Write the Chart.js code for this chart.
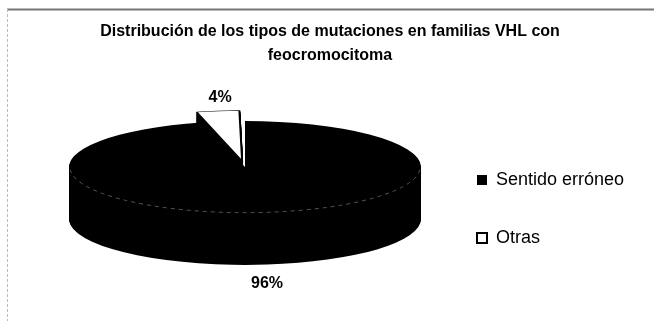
<!DOCTYPE html>
<html>
<head>
<meta charset="utf-8">
<script src="https://cdn.jsdelivr.net/npm/chart.js@4.4.1/dist/chart.umd.min.js"></script>
<style>
  html, body { margin: 0; padding: 0; background: #fff; }
  #wrap { width: 654px; height: 325px; position: relative; }
</style>
</head>
<body>
<div id="wrap"><canvas id="pieChart"></canvas></div>
<script>
const TITLE = ["Distribución de los tipos de mutaciones en familias VHL con", "feocromocitoma"];
const CATEGORIES = ["Sentido erróneo", "Otras"];
const PERCENTS = [96, 4];
const COLORS = ["#000000", "#ffffff"];

// 3D look: vertical squash of the pie and thickness of the slab
const TILT = 0.261;
const DEPTH = 52;
const LABEL_GAP = 18;

function flatten(ctx, arc) {
    ctx.translate(arc.x, arc.y);
    ctx.scale(1, TILT);
    ctx.translate(-arc.x, -arc.y);
}

const pie3d = {
    id: "pie3d",
    afterLayout(chart) {
        // legend is kept narrow for layout, but let its text run to the edge
        const lg = chart.legend;
        lg.right = chart.width;
        lg.width = lg.right - lg.left;
    },
    beforeDraw(chart) {
        // outer frame like the original sheet
        const ctx = chart.ctx;
        ctx.save();
        ctx.strokeStyle = "#777";
        ctx.lineWidth = 2;
        ctx.beginPath();
        ctx.moveTo(7, 9.5);
        ctx.lineTo(654, 9.5);
        ctx.stroke();
        ctx.strokeStyle = "#bbb";
        ctx.lineWidth = 1;
        ctx.setLineDash([3, 2]);
        ctx.beginPath();
        ctx.moveTo(7.5, 9);
        ctx.lineTo(7.5, 321);
        ctx.stroke();
        ctx.restore();
    },
    beforeDatasetsDraw(chart) {
        const arc = chart.getDatasetMeta(0).data[0];
        chart.ctx.save();
        flatten(chart.ctx, arc);
    },
    afterDatasetsDraw(chart) {
        const ctx = chart.ctx;
        ctx.restore();
        const meta = chart.getDatasetMeta(0);
        const arc = meta.data[0];

        // stack the slab upward, the last layer is the top face
        for (let k = 1; k <= DEPTH; k++) {
            ctx.save();
            ctx.translate(0, -k);
            flatten(ctx, arc);
            meta.data.forEach(a => a.draw(ctx));
            ctx.restore();
        }

        // faint rim between top face and side
        ctx.save();
        ctx.strokeStyle = "#555";
        ctx.lineWidth = 1;
        ctx.setLineDash([4, 4]);
        ctx.beginPath();
        ctx.ellipse(arc.x, arc.y - DEPTH, arc.outerRadius - 1, (arc.outerRadius - 1) * TILT, 0, 0.06, Math.PI - 0.06);
        ctx.stroke();
        ctx.restore();

        // percentage labels
        ctx.save();
        ctx.fillStyle = "#000";
        ctx.font = "bold 16px 'Liberation Sans', Arial, sans-serif";
        ctx.textAlign = "center";
        ctx.textBaseline = "middle";
        meta.data.forEach((a, i) => {
            const mid = (a.startAngle + a.endAngle) / 2;
            const r = a.outerRadius + (a.options.offset || 0) / 4;
            const sin = Math.sin(mid);
            const x = a.x + Math.cos(mid) * r;
            let y = a.y + sin * r * TILT;
            if (sin < 0) y -= DEPTH + LABEL_GAP;
            else y += LABEL_GAP + 1;
            ctx.fillText(chart.data.datasets[0].data[i] + "%", x, y);
        });
        ctx.restore();
    }
};

Chart.defaults.font.family = "'Liberation Sans', Arial, sans-serif";
Chart.defaults.color = "#000";

const ctx = document.getElementById("pieChart").getContext("2d");
new Chart(ctx, {
    type: "pie",
    data: {
        labels: CATEGORIES,
        datasets: [{
            data: PERCENTS,
            backgroundColor: COLORS,
            borderColor: "#000",
            borderWidth: [0, 2],
            offset: [0, 92],
            radius: 176,
            clip: false
        }]
    },
    options: {
        responsive: true,
        maintainAspectRatio: false,
        animation: false,
        events: [],
        layout: { padding: { left: 53, right: 47, top: 0, bottom: 18 } },
        plugins: {
            title: {
                display: true,
                text: TITLE,
                color: "#000",
                font: { size: 16, weight: "bold", lineHeight: 1.5 },
                padding: { top: 20, bottom: 63 }
            },
            legend: {
                position: "right",
                align: "start",
                fullSize: false,
                maxWidth: 170,
                labels: {
                    boxWidth: 10,
                    boxHeight: 10,
                    padding: 40,
                    color: "#000",
                    font: { size: 18 }
                }
            },
            tooltip: { enabled: false }
        }
    },
    plugins: [pie3d]
});
</script>
</body>
</html>
